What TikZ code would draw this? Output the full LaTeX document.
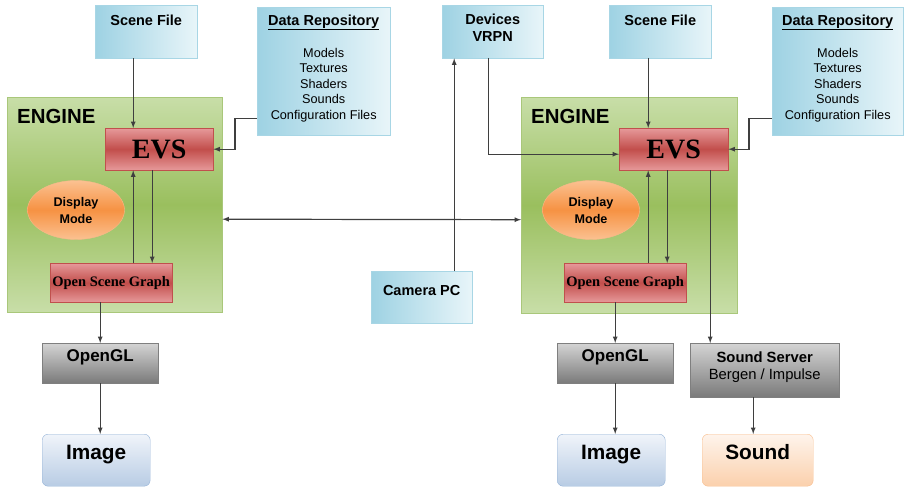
\documentclass[tikz,border=0pt]{standalone}
\usepackage{fontspec}
\setmainfont{Liberation Sans}
\newfontfamily\serifbold{Liberation Serif}
\usepackage{tikz}
\usetikzlibrary{shapes.geometric}
\usetikzlibrary{arrows}
\tikzset{>=latex}
\definecolor{linec}{HTML}{3F3F3F}
\definecolor{filebd}{HTML}{A8D6E5}
\definecolor{filedk}{HTML}{9ED2E3}
\definecolor{filelt}{HTML}{E8F5F9}
\definecolor{engbd}{HTML}{A9C77A}
\definecolor{englt}{HTML}{C8DEA8}
\definecolor{engdk}{HTML}{9ABF5E}
\definecolor{evsbd}{HTML}{C0504D}
\definecolor{evslt}{HTML}{E6999A}
\definecolor{evsdk}{HTML}{C24E4B}
\definecolor{dispbd}{HTML}{F9B98A}
\definecolor{displt}{HTML}{FBC191}
\definecolor{dispdk}{HTML}{F69243}
\definecolor{glbd}{HTML}{7F7F7F}
\definecolor{gllt}{HTML}{D4D4D4}
\definecolor{gldk}{HTML}{7A7A7A}
\definecolor{imgbd}{HTML}{95B3D7}
\definecolor{imglt}{HTML}{F0F4FA}
\definecolor{imgdk}{HTML}{B8CCE4}
\definecolor{sndbd}{HTML}{F9BF8F}
\definecolor{sndlt}{HTML}{FEF4EC}
\definecolor{snddk}{HTML}{FBD0AC}
\tikzstyle{block} = [rectangle, anchor=north west, inner sep=0pt, align=center]
\tikzstyle{file} = [block, draw=filebd, left color=filedk, right color=filelt, font=\fontsize{14.5}{17}\selectfont\bfseries]
\tikzstyle{repo} = [block, draw=filebd, left color=filedk, right color=filelt, font=\fontsize{12.7}{15.5}\selectfont]
\tikzstyle{engine} = [block, draw=engbd, top color=englt, bottom color=englt, middle color=engdk, align=left, inner xsep=10pt, font=\fontsize{20.4}{24}\selectfont\bfseries]
\tikzstyle{evs} = [block, draw=evsbd, top color=evslt, bottom color=evslt, middle color=evsdk]
\tikzstyle{disp} = [ellipse, draw=dispbd, top color=displt, bottom color=displt, middle color=dispdk, inner sep=0pt, align=center, minimum width=97pt, minimum height=59pt, font=\fontsize{12.6}{17}\selectfont\bfseries]
\tikzstyle{gl} = [block, draw=glbd, top color=gllt, bottom color=gldk]
\tikzstyle{result} = [block, rounded corners=6pt, font=\fontsize{20.8}{24}\selectfont\bfseries]
\tikzstyle{flow} = [->, draw=linec, line width=1.2pt]

\begin{document}
\begin{tikzpicture}[x=1pt, y=-1pt]
\useasboundingbox (0,0) rectangle (904,489);
% left engine
\node [engine, minimum width=215pt, minimum height=215pt, text width=195pt, text height=26pt, text depth=189pt] (EN1) at (7, 97) {ENGINE};
\node [file, minimum width=102pt, minimum height=53pt, text height=20pt, text depth=33pt] (SF1) at (95, 5) {Scene File};
\node [repo, minimum width=133pt, minimum height=128pt, text height=112pt, text depth=16pt] (DR1) at (257, 7) {{\fontsize{14.5}{15.5}\selectfont\bfseries\underline{Data Repository}}\\[16.5pt] Models\\Textures\\Shaders\\Sounds\\Configuration Files};
\node [evs, minimum width=108pt, minimum height=42pt, font=\serifbold\bfseries\fontsize{28}{30}\selectfont] (EVS1) at (105, 128) {EVS};
\node [disp] (DM1) at (76, 210) {Display\\Mode};
\node [evs, minimum width=122pt, minimum height=39pt, font=\serifbold\bfseries\fontsize{14.5}{17}\selectfont] (OSG1) at (50, 263) {Open Scene Graph};
\node [gl, minimum width=116pt, minimum height=40pt, text height=18pt, text depth=22pt, font=\bfseries\fontsize{17}{20}\selectfont] (GL1) at (42, 343) {OpenGL};
\node [result, draw=imgbd, top color=imglt, bottom color=imgdk, minimum width=108pt, minimum height=52pt, text height=25pt, text depth=27pt] (IM1) at (42, 434) {Image};

% middle
\node [file, minimum width=101pt, minimum height=53pt, text height=36pt, text depth=17pt] (DEV) at (442, 5) {Devices\\VRPN};
\node [file, minimum width=101pt, minimum height=52pt, text height=24pt, text depth=28pt] (CAM) at (371, 271) {Camera PC};

% right engine
\node [engine, minimum width=216pt, minimum height=216pt, text width=196pt, text height=26pt, text depth=190pt] (EN2) at (521, 97) {ENGINE};
\node [file, minimum width=102pt, minimum height=53pt, text height=20pt, text depth=33pt] (SF2) at (609, 5) {Scene File};
\node [repo, minimum width=131pt, minimum height=128pt, text height=112pt, text depth=16pt] (DR2) at (772, 7) {{\fontsize{14.5}{15.5}\selectfont\bfseries\underline{Data Repository}}\\[16.5pt] Models\\Textures\\Shaders\\Sounds\\Configuration Files};
\node [evs, minimum width=109pt, minimum height=42pt, font=\serifbold\bfseries\fontsize{28}{30}\selectfont] (EVS2) at (619, 128) {EVS};
\node [disp] (DM2) at (591, 210) {Display\\Mode};
\node [evs, minimum width=122pt, minimum height=39pt, font=\serifbold\bfseries\fontsize{14.5}{17}\selectfont] (OSG2) at (564, 263) {Open Scene Graph};
\node [gl, minimum width=116pt, minimum height=40pt, text height=18pt, text depth=22pt, font=\bfseries\fontsize{17}{20}\selectfont] (GL2) at (557, 343) {OpenGL};
\node [gl, minimum width=149pt, minimum height=54pt, text height=36pt, text depth=18pt, font=\fontsize{14.8}{16.5}\selectfont] (SS2) at (690, 343) {\textbf{Sound Server}\\Bergen / Impulse};
\node [result, draw=imgbd, top color=imglt, bottom color=imgdk, minimum width=108pt, minimum height=52pt, text height=25pt, text depth=27pt] (IM2) at (557, 434) {Image};
\node [result, draw=sndbd, top color=sndlt, bottom color=snddk, minimum width=111pt, minimum height=52pt, text height=25pt, text depth=27pt] (SN2) at (702, 434) {Sound};

\coordinate (in1) at ([xshift=-26pt]EVS1.north);
\coordinate (dn1) at ([xshift=-7pt]EVS1.south);
\coordinate (in2) at ([xshift=-25.5pt]EVS2.north);
\coordinate (dn2) at ([xshift=-6.5pt]EVS2.south);
\coordinate (snd) at ([xshift=36.5pt]EVS2.south);
\coordinate (sin) at ([xshift=-4.5pt]SN2.north);
\coordinate (cup) at ([xshift=-38.5pt]DEV.south);

\draw [flow] (SF1.south -| in1) -- (in1);
\draw [flow] (OSG1.north -| in1) -- (in1 |- EVS1.south);
\draw [flow] (dn1) -- (dn1 |- OSG1.north);
\draw [flow] ([yshift=-47pt]DR1.west) -- ++(-22, 0) |- (EVS1.east);
\draw [flow] (GL1.north |- OSG1.south) -- (GL1.north);
\draw [flow] (GL1.south) -- (GL1.south |- IM1.north);

\draw [flow, <->] ([yshift=-14.5pt]EN1.east) -- ([yshift=-14.5pt]EN2.west);
\draw [flow] (CAM.north -| cup) -- (cup);
\draw [flow] ([xshift=-4.5pt]DEV.south) |- ([yshift=-5pt]EVS2.west);

\draw [flow] (SF2.south -| in2) -- (in2);
\draw [flow] (OSG2.north -| in2) -- (in2 |- EVS2.south);
\draw [flow] (dn2) -- (dn2 |- OSG2.north);
\draw [flow] ([yshift=-47pt]DR2.west) -- ++(-23, 0) |- (EVS2.east);
\draw [flow] (snd) -- (snd |- SS2.north);
\draw [flow] (GL2.north |- OSG2.south) -- (GL2.north);
\draw [flow] (GL2.south) -- (GL2.south |- IM2.north);
\draw [flow] (SS2.south -| sin) -- (sin);
\end{tikzpicture}
\end{document}
